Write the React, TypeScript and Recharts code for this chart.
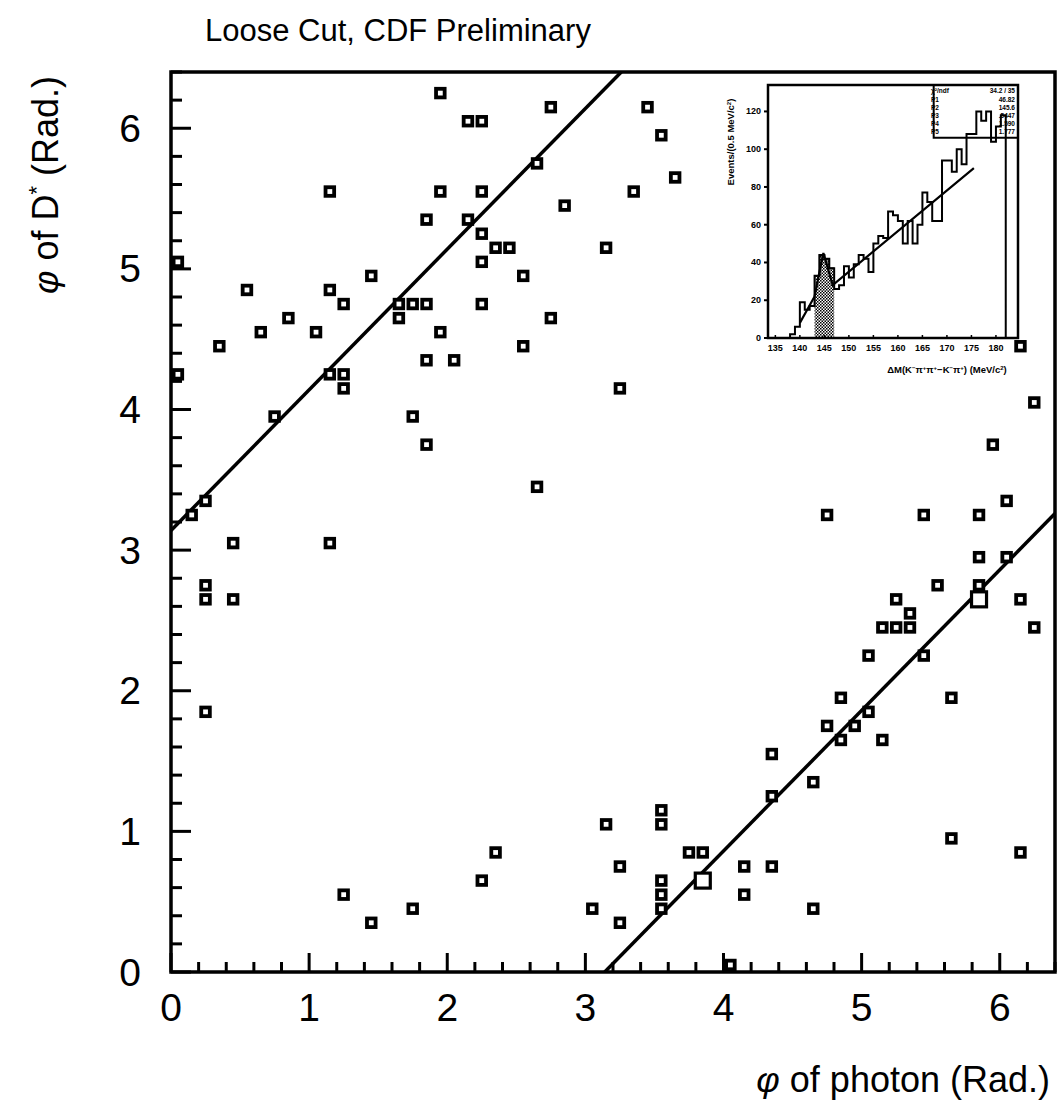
import React from 'react';
import {
  ScatterChart,
  Scatter,
  ComposedChart,
  Line,
  Area,
  XAxis,
  YAxis,
  ReferenceArea,
} from 'recharts';

// main scatter: phi of photon (x) vs phi of D* (y), in radians
const photonPhi = [
  1.95, 2.15, 2.25, 2.75, 2.65, 1.15, 1.95, 2.25, 2.85, 1.85,
  2.15, 2.25, 2.35, 2.45, 3.15, 2.25, 0.05, 2.55, 1.45, 0.55,
  1.15, 1.25, 1.65, 1.75, 1.85, 2.25, 1.65, 2.75, 0.85, 0.65,
  1.05, 1.95, 0.35, 2.55, 1.85, 2.05, 0.05, 1.15, 1.25, 1.25,
  3.25, 0.75, 1.75, 1.85, 3.45, 3.55, 3.65, 3.35, 6.25, 5.95,
  6.15,
  2.65, 0.15, 0.25, 0.45, 1.15, 0.25, 0.25, 0.45, 0.25, 3.15,
  2.35, 2.25, 1.25, 1.75, 1.45, 3.05, 3.25, 3.25,
  4.75, 5.45, 5.85, 6.05, 5.85, 6.05, 5.55, 5.85, 6.15, 5.25,
  5.35, 5.15, 5.25, 5.35, 6.25, 5.05, 5.45, 4.85, 5.65, 5.05,
  4.75, 4.95, 4.85, 5.15, 4.35, 4.65, 4.35, 3.55, 3.55, 3.75,
  3.85, 3.55, 3.55, 3.55, 4.15, 4.35, 4.15, 4.65, 5.65, 6.15,
  4.05,
];
const dstarPhi = [
  6.25, 6.05, 6.05, 6.15, 5.75, 5.55, 5.55, 5.55, 5.45, 5.35,
  5.35, 5.25, 5.15, 5.15, 5.15, 5.05, 5.05, 4.95, 4.95, 4.85,
  4.85, 4.75, 4.75, 4.75, 4.75, 4.75, 4.65, 4.65, 4.65, 4.55,
  4.55, 4.55, 4.45, 4.45, 4.35, 4.35, 4.25, 4.25, 4.25, 4.15,
  4.15, 3.95, 3.95, 3.75, 6.15, 5.95, 5.65, 5.55, 4.05, 3.75,
  4.45,
  3.45, 3.25, 3.35, 3.05, 3.05, 2.75, 2.65, 2.65, 1.85, 1.05,
  0.85, 0.65, 0.55, 0.45, 0.35, 0.45, 0.75, 0.35,
  3.25, 3.25, 3.25, 3.35, 2.95, 2.95, 2.75, 2.75, 2.65, 2.65,
  2.55, 2.45, 2.45, 2.45, 2.45, 2.25, 2.25, 1.95, 1.95, 1.85,
  1.75, 1.75, 1.65, 1.65, 1.55, 1.35, 1.25, 1.15, 1.05, 0.85,
  0.85, 0.65, 0.55, 0.45, 0.75, 0.75, 0.55, 0.45, 0.95, 0.85,
  0.05,
];

// cells holding two entries (drawn with the bigger box)
const doublePhoton = [3.85, 5.85];
const doubleDstar = [0.65, 2.65];

// the two cut lines, phi(D*) = phi(photon) +/- pi
const upperCutX = [0, 3.26];
const upperCutY = [3.14, 6.4];
const lowerCutX = [3.14, 6.4];
const lowerCutY = [0, 3.26];

const phiTicks = [
  0, 0.2, 0.4, 0.6, 0.8, 1, 1.2, 1.4, 1.6, 1.8, 2, 2.2, 2.4, 2.6, 2.8, 3,
  3.2, 3.4, 3.6, 3.8, 4, 4.2, 4.4, 4.6, 4.8, 5, 5.2, 5.4, 5.6, 5.8, 6, 6.2, 6.4,
];

// inset: delta M histogram
const dmBins = [
  138, 139, 140, 141, 142, 143, 144, 145, 146, 147,
  148, 149, 150, 151, 152, 153, 154, 155, 156, 157,
  158, 159, 160, 161, 162, 163, 164, 165, 166, 167,
  168, 169, 170, 171, 172, 173, 174, 175, 176, 177,
  178, 179, 180, 181,
];
const dmCounts = [
  2, 6, 19, 15, 17, 33, 44, 42, 37, 26,
  28, 38, 32, 39, 44, 42, 35, 50, 54, 53,
  67, 65, 62, 50, 62, 50, 60, 77, 72, 62,
  62, 94, 94, 88, 100, 92, 108, 108, 120, 115,
  120, 104, 112, 118,
];
const signalBins = [143, 144, 145, 146];
const signalCounts = [33, 44, 42, 37];
const fitX = [140, 141.5, 143, 144, 144.8, 145.7, 146.7, 175.5];
const fitY = [8, 15, 22, 35, 45, 37, 28, 90];
const dmTicks = [135, 140, 145, 150, 155, 160, 165, 170, 175, 180];
const countTicks = [0, 20, 40, 60, 80, 100, 120];

const statRows = [
  ['P1', '46.82'],
  ['P2', '145.6'],
  ['P3', '.5447'],
  ['P4', '1.590'],
  ['P5', '1.777'],
];

const FONT = '"Liberation Sans", Arial, sans-serif';

const points = photonPhi.map((x, i) => ({ x, y: dstarPhi[i] }));
const doubles = doublePhoton.map((x, i) => ({ x, y: doubleDstar[i] }));
const upperCut = upperCutX.map((x, i) => ({ x, y: upperCutY[i] }));
const lowerCut = lowerCutX.map((x, i) => ({ x, y: lowerCutY[i] }));

const lastBin = dmBins[dmBins.length - 1];
const lastCount = dmCounts[dmCounts.length - 1];
const histData = [
  { x: dmBins[0], y: 0 },
  ...dmBins.map((x, i) => ({ x, y: dmCounts[i] })),
  { x: lastBin + 1, y: lastCount },
  { x: lastBin + 1, y: 0 },
];
const signalData = [
  ...signalBins.map((x, i) => ({ x, y: signalCounts[i] })),
  { x: signalBins[signalBins.length - 1] + 1, y: signalCounts[signalCounts.length - 1] },
];
const fitData = fitX.map((x, i) => ({ x, y: fitY[i] }));

const isMajor = (v: number) => Math.abs(v - Math.round(v)) < 1e-6;

const Box = (props: any) => {
  const { cx, cy } = props;
  if (cx == null || cy == null) return <g />;
  return (
    <rect x={cx - 4.3} y={cy - 4.3} width={8.6} height={8.6}
      fill="#fff" stroke="#000" strokeWidth={3.8} />
  );
};

const BigBox = (props: any) => {
  const { cx, cy } = props;
  if (cx == null || cy == null) return <g />;
  return (
    <rect x={cx - 7.5} y={cy - 7.5} width={15} height={15}
      fill="#fff" stroke="#000" strokeWidth={3.2} />
  );
};

const NoShape = () => <g />;

const MainYTick = (props: any) => {
  const { x, y, payload } = props;
  const major = isMajor(payload.value);
  return (
    <g>
      <line x1={x} x2={x + (major ? 20 : 11)} y1={y} y2={y} stroke="#000" strokeWidth={3} />
      {major && (
        <text x={x - 41} y={y} textAnchor="middle" dominantBaseline="central"
          fontFamily={FONT} fontSize={39} fill="#000">
          {Math.round(payload.value)}
        </text>
      )}
    </g>
  );
};

const MainXTick = (props: any) => {
  const { x, y, payload } = props;
  const major = isMajor(payload.value);
  return (
    <g>
      <line x1={x} x2={x} y1={y} y2={y - (major ? 19 : 10)} stroke="#000" strokeWidth={3} />
      {major && (
        <text x={x} y={y + 35} textAnchor="middle" dominantBaseline="central"
          fontFamily={FONT} fontSize={39} fill="#000">
          {Math.round(payload.value)}
        </text>
      )}
    </g>
  );
};

const InsetYTick = (props: any) => {
  const { x, y, payload } = props;
  return (
    <g>
      <line x1={x} x2={x - 4} y1={y} y2={y} stroke="#000" strokeWidth={2} />
      <text x={x - 7} y={y} textAnchor="end" dominantBaseline="central"
        fontFamily={FONT} fontSize={9} fontWeight="bold" fill="#000">
        {payload.value}
      </text>
    </g>
  );
};

const InsetXTick = (props: any) => {
  const { x, y, payload } = props;
  return (
    <g>
      <line x1={x} x2={x} y1={y} y2={y - 3} stroke="#000" strokeWidth={1.5} />
      <text x={x} y={y + 10} textAnchor="middle" dominantBaseline="central"
        fontFamily={FONT} fontSize={9} fontWeight="bold" fill="#000">
        {payload.value}
      </text>
    </g>
  );
};

const Inset = () => (
  <div style={{ position: 'absolute', left: 700, top: 70 }}>
    <ComposedChart width={330} height={320}
      margin={{ top: 15, right: 12, left: 0, bottom: 22 }}>
      <defs>
        <pattern id="signalHatch" width="3" height="3" patternUnits="userSpaceOnUse">
          <rect width="3" height="3" fill="#fff" />
          <rect width="1.5" height="1.5" fill="#000" />
          <rect x="1.5" y="1.5" width="1.5" height="1.5" fill="#000" />
        </pattern>
      </defs>
      <XAxis type="number" dataKey="x" domain={[133.5, 184.5]} ticks={dmTicks}
        allowDataOverflow interval={0} height={30} axisLine={false} tickLine={false}
        tickSize={0} tickMargin={0} tick={<InsetXTick />} />
      <YAxis type="number" dataKey="y" domain={[0, 134]} ticks={countTicks}
        allowDataOverflow interval={0} width={68} axisLine={false} tickLine={false}
        tickSize={0} tickMargin={0} tick={<InsetYTick />} />
      <Area data={signalData} dataKey="y" type="stepAfter" baseValue={0}
        stroke="#000" strokeWidth={1.5} fill="url(#signalHatch)" fillOpacity={1}
        isAnimationActive={false} dot={false} activeDot={false} />
      <Line data={histData} dataKey="y" type="stepAfter" stroke="#000"
        strokeWidth={2} dot={false} activeDot={false} isAnimationActive={false} />
      <Line data={fitData} dataKey="y" type="linear" stroke="#000"
        strokeWidth={2.2} dot={false} activeDot={false} isAnimationActive={false} />
      <ReferenceArea x1={133.5} x2={184.5} y1={0} y2={134} fill="none"
        stroke="#000" strokeWidth={2.5} ifOverflow="visible" />
      <ReferenceArea x1={167.3} x2={184.5} y1={106} y2={134} fill="none"
        stroke="#000" strokeWidth={2} ifOverflow="visible" />
    </ComposedChart>
  </div>
);

const Labels = () => (
  <svg width={1061} height={1104}
    style={{ position: 'absolute', left: 0, top: 0, pointerEvents: 'none' }}>
    <text x={205} y={41} fontFamily={FONT} fontSize={31} fill="#000">
      Loose Cut, CDF Preliminary
    </text>
    <text x={58} y={185} transform="rotate(-90, 58, 185)" textAnchor="middle"
      fontFamily={FONT} fontSize={36} fill="#000">
      <tspan fontStyle="italic">φ</tspan> of D<tspan fontSize={22} dy={-14}>*</tspan>
      <tspan dy={14}> (Rad.)</tspan>
    </text>
    <text x={1050} y={1092} textAnchor="end" fontFamily={FONT} fontSize={36} fill="#000">
      <tspan fontStyle="italic">φ</tspan> of photon (Rad.)
    </text>
    <text x={734} y={142} transform="rotate(-90, 734, 142)" textAnchor="middle"
      fontFamily={FONT} fontSize={9.5} fontWeight="bold" fill="#000">
      Events/(0.5 MeV/c<tspan fontSize={6} dy={-3}>2</tspan><tspan dy={3}>)</tspan>
    </text>
    <text x={947} y={373} textAnchor="middle" fontFamily={FONT} fontSize={9.5}
      fontWeight="bold" fill="#000">
      ΔM(K<tspan fontSize={6} dy={-3}>−</tspan><tspan dy={3}>π</tspan>
      <tspan fontSize={6} dy={-3}>+</tspan><tspan dy={3}>π</tspan>
      <tspan fontSize={6} dy={-3}>+</tspan><tspan dy={3}>−K</tspan>
      <tspan fontSize={6} dy={-3}>−</tspan><tspan dy={3}>π</tspan>
      <tspan fontSize={6} dy={-3}>+</tspan><tspan dy={3}>) (MeV/c</tspan>
      <tspan fontSize={6} dy={-3}>2</tspan><tspan dy={3}>)</tspan>
    </text>
    <g fontFamily={FONT} fontSize={6.5} fontWeight="bold" fill="#000">
      <text x={931} y={93} fill="#000">χ²/ndf</text>
      <text x={1015} y={93} textAnchor="end" fill="#000">34.2  /  35</text>
      {statRows.map((r, i) => (
        <g key={r[0]}>
          <text x={931} y={102 + i * 8} fill="#000">{r[0]}</text>
          <text x={1015} y={102 + i * 8} textAnchor="end" fill="#000">{r[1]}</text>
        </g>
      ))}
    </g>
  </svg>
);

export default function App() {
  return (
    <div style={{ position: 'absolute', left: 0, top: 0, width: 1061, height: 1104, background: '#fff' }}>
      <ScatterChart width={1061} height={1104}
        margin={{ top: 72, right: 6, left: 0, bottom: 72 }}>
        <XAxis type="number" dataKey="x" domain={[0, 6.4]} ticks={phiTicks}
          allowDataOverflow interval={0} height={60} axisLine={false} tickLine={false}
          tickSize={0} tickMargin={0} tick={<MainXTick />} />
        <YAxis type="number" dataKey="y" domain={[0, 6.4]} ticks={phiTicks}
          allowDataOverflow interval={0} width={171} axisLine={false} tickLine={false}
          tickSize={0} tickMargin={0} tick={<MainYTick />} />
        <ReferenceArea x1={0} x2={6.4} y1={0} y2={6.4} fill="none"
          stroke="#000" strokeWidth={3.5} ifOverflow="visible" />
        <Scatter data={upperCut} line={{ stroke: '#000', strokeWidth: 3.5 }}
          shape={NoShape} isAnimationActive={false} />
        <Scatter data={lowerCut} line={{ stroke: '#000', strokeWidth: 3.5 }}
          shape={NoShape} isAnimationActive={false} />
        <Scatter data={points} shape={Box} isAnimationActive={false} />
        <Scatter data={doubles} shape={BigBox} isAnimationActive={false} />
      </ScatterChart>
      <Inset />
      <Labels />
    </div>
  );
}
